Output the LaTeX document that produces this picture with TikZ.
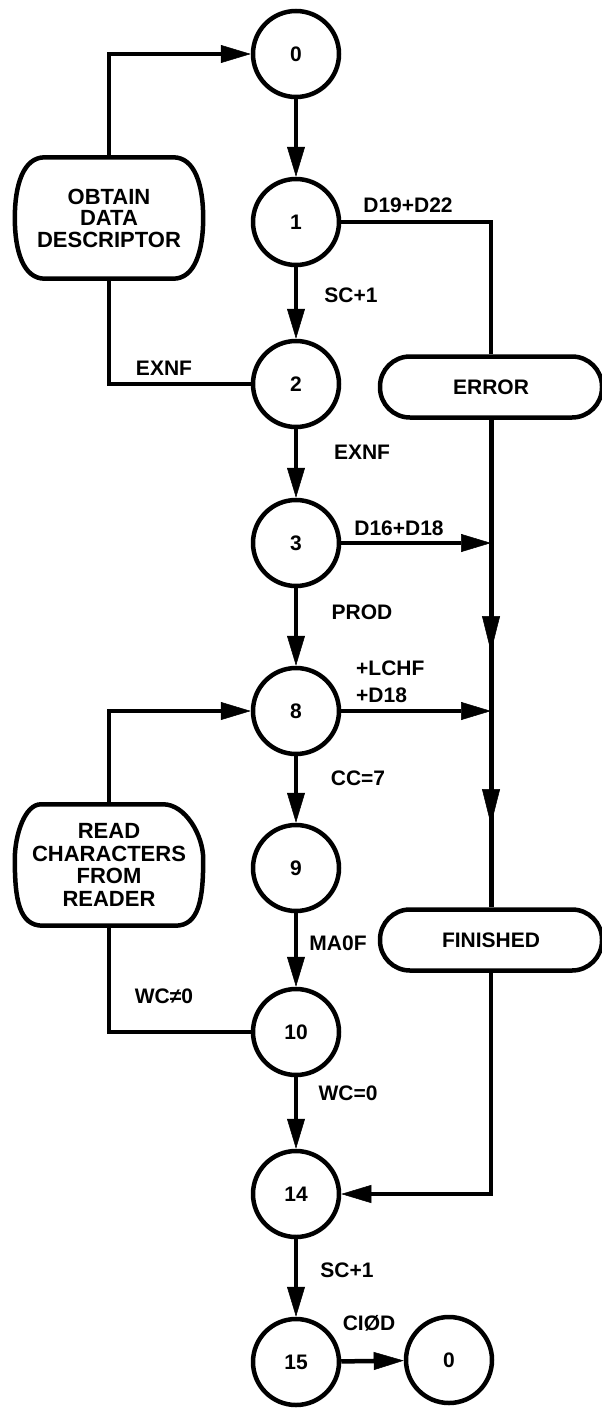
\documentclass[tikz,border=0pt]{standalone}
\usepackage{fontspec}
\setmainfont{Liberation Sans}
\usetikzlibrary{arrows.meta,calc}
\begin{document}
\begin{tikzpicture}[x=1pt,y=-1pt,
  every node/.style={font=\fontsize{21}{22}\selectfont\bfseries},
  st/.style={circle,draw,line width=4.5pt,minimum size=86pt,inner sep=0pt},
  lbl/.style={inner sep=0pt},
  ln/.style={line width=4.5pt},
  arr/.style={ln,-{Triangle[length=30pt,width=18pt,line width=0.5pt]}},
  longarr/.style={ln,-{Triangle[length=36pt,width=18pt,line width=0.5pt]}},
  term/.style={draw,line width=4.5pt,rounded corners=30pt,minimum width=222pt,minimum height=61pt,inner sep=0pt},
  proc/.style={minimum width=188pt,minimum height=121pt,align=center,inner sep=0pt,font=\fontsize{22}{21.5}\selectfont\bfseries},
  barrel/.style={line width=4.5pt}
]
\useasboundingbox (0,0) rectangle (602,1408);
\clip (0,0) rectangle (602,1408);

% states
\node[st] (c0) at (296,54) {0};
\node[st] (c1) at (296,222) {1};
\node[st] (c2) at (296,384) {2};
\node[st] (c3) at (296,543) {3};
\node[st] (c8) at (296,711) {8};
\node[st] (c9) at (296,868) {9};
\node[st] (c10) at (296,1032) {10};
\node[st] (c14) at (296,1194) {14};
\node[st] (c15) at (296,1362) {15};
\node[st] (c0b) at (449,1360) {0};

% terminals
\node[term] (err) at (491,387) {ERROR};
\node[term] (fin) at (491,940) {FINISHED};

% process boxes
\node[proc] (ob) at (109,218) {OBTAIN\\DATA\\DESCRIPTOR};
\node[proc,font=\fontsize{22}{22.5}\selectfont\bfseries] (rd) at (109,865) {READ\\CHARACTERS\\FROM\\READER};

\draw[barrel] ([xshift=30pt]ob.north west) -- ([xshift=-30pt]ob.north east)
  .. controls ([xshift=-8pt]ob.north east) and ([yshift=32pt]ob.east) .. (ob.east)
  .. controls ([yshift=-32pt]ob.east) and ([xshift=-8pt]ob.south east) .. ([xshift=-30pt]ob.south east)
  -- ([xshift=30pt]ob.south west)
  .. controls ([xshift=8pt]ob.south west) and ([yshift=-32pt]ob.west) .. (ob.west)
  .. controls ([yshift=32pt]ob.west) and ([xshift=8pt]ob.north west) .. cycle;

\draw[barrel] ([xshift=26pt]rd.north west) -- ([xshift=-40pt]rd.north east)
  .. controls ([xshift=-18pt]rd.north east) and ([yshift=30pt]rd.east) .. ([yshift=6pt]rd.east)
  .. controls ([yshift=-34pt]rd.east) and ([xshift=-4pt]rd.south east) .. ([xshift=-28pt]rd.south east)
  -- ([xshift=28pt]rd.south west)
  .. controls ([xshift=4pt]rd.south west) and ([yshift=-34pt]rd.west) .. ([yshift=6pt]rd.west)
  .. controls ([yshift=30pt]rd.west) and ([xshift=10pt]rd.north west) .. cycle;

% main column
\draw[arr] (c0) -- (c1);
\draw[arr] (c1) -- (c2);
\draw[arr] (c2) -- (c3);
\draw[arr] (c3) -- (c8);
\draw[arr] (c8) -- (c9);
\draw[arr] (c9) -- (c10);
\draw[arr] (c10) -- (c14);
\draw[arr] (c14) -- (c15);
\draw[arr] (c15) -- (c0b);

% loops on the left
\draw[arr] (ob.north) |- (c0.west);
\draw[ln] (ob.south) |- (c2.west);
\draw[arr] (rd.north) |- (c8.west);
\draw[ln] (rd.south) |- (c10.west);

% right trunk
\coordinate (j3) at (err.south |- c3.east);
\coordinate (j8) at (err.south |- c8.east);
\coordinate (t1) at (491,652);
\coordinate (t2) at (491,825);
\draw[ln] (c1.east) -| (err.north);
\draw[ln,line width=5pt] (err.south) -- (fin.north);
\draw[longarr] (j3) -- (t1);
\draw[longarr] (j8) -- (t2);
\draw[arr] (c3.east) -- (j3);
\draw[arr] (c8.east) -- (j8);
\draw[arr] (fin.south) |- (c14.east);

% labels
\node[lbl] (l1) at (408,205) {D19+D22};
\node[lbl] (l2) at (351,295) {SC+1};
\node[lbl] (l3) at (164,368) {EXNF};
\node[lbl] (l4) at (362,452) {EXNF};
\node[lbl] (l5) at (399,528) {D16+D18};
\node[lbl] (l6) at (362,612) {PROD};
\node[lbl,align=left,anchor=west,font=\fontsize{21}{27}\selectfont\bfseries] (l7) at (356,681.5) {+LCHF\\+D18};
\node[lbl] (l8) at (358,778) {CC=7};
\node[lbl] (l9) at (338,943) {MA0F};
\node[lbl] (l10) at (164,996) {WC≠0};
\node[lbl] (l11) at (348,1093) {WC=0};
\node[lbl] (l12) at (347,1270) {SC+1};
\node[lbl] (l13) at (369,1323) {CIØD};
\end{tikzpicture}
\end{document}
